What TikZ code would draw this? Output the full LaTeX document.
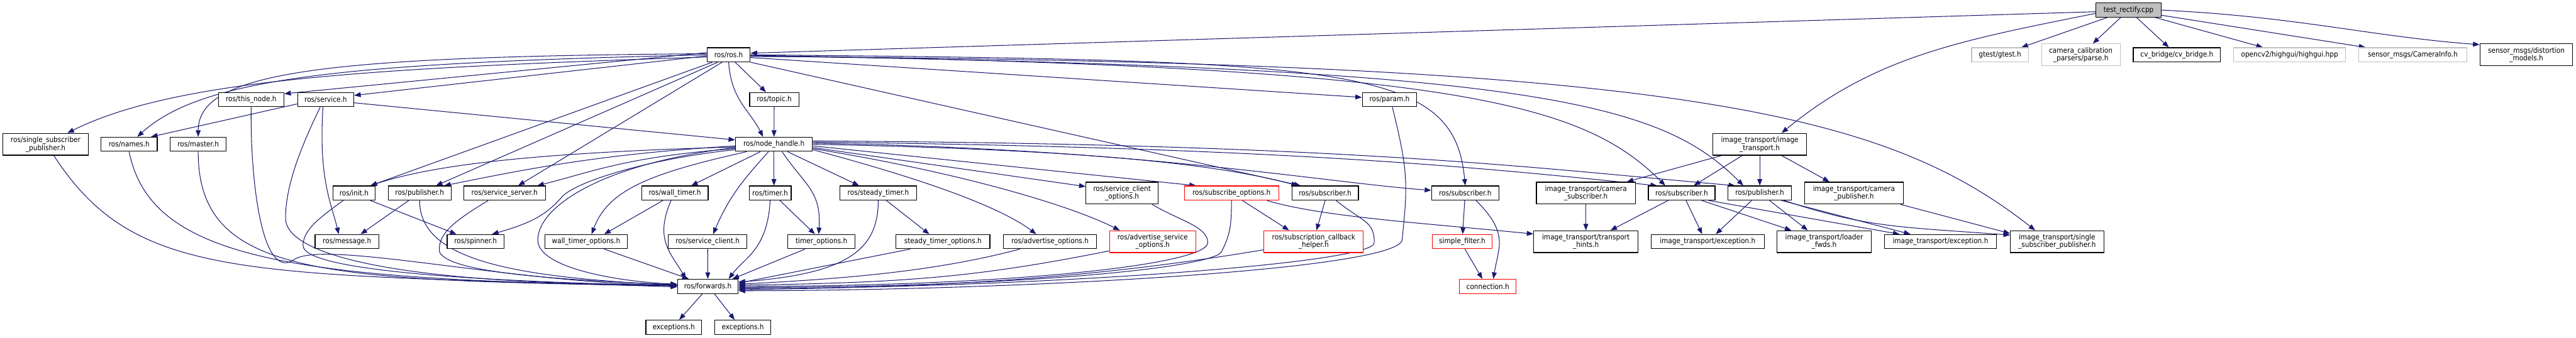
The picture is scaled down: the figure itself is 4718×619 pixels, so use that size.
\documentclass[tikz,border=0pt]{standalone}
\usepackage{fontspec}
\setmainfont{DejaVu Sans Condensed}
\usetikzlibrary{arrows.meta}
\definecolor{edgec}{HTML}{191970}
\definecolor{graybd}{HTML}{BFBFBF}
\definecolor{redbd}{HTML}{FF0000}
\pgfdeclarelayer{edgelayer}
\pgfsetlayers{edgelayer,main}
\begin{document}
\begin{tikzpicture}[x=1pt,y=1pt,
  box/.style={draw=black, fill=white, line width=1.3pt, inner sep=0pt, align=center,
    font=\fontsize{13.5}{14.5}\selectfont},
  one/.style={minimum height=26pt},
  two/.style={minimum height=40pt},
  gb/.style={draw=graybd},
  rb/.style={draw=redbd},
  dep/.style={draw=edgec, line width=1.2pt, -{Triangle[length=12pt,width=9pt]}}]
\useasboundingbox (0,0) rectangle (4718,-619);
% row 0-1
\node[box,one,minimum width=119pt,fill=graybd] (TR) at (3898.5,-18.5) {test\_rectify.cpp};
\node[box,one,minimum width=79pt] (R) at (1334.5,-100.5) {ros/ros.h};
\node[box,one,gb,minimum width=104pt] (gtest) at (3663,-100.5) {gtest/gtest.h};
\node[box,two,gb,minimum width=144pt] (ccp) at (3811,-100.5) {camera\_calibration\\\_parsers/parse.h};
\node[box,one,minimum width=160pt] (cvb) at (3987,-100.5) {cv\_bridge/cv\_bridge.h};
\node[box,one,gb,minimum width=205pt] (hg) at (4193.5,-100.5) {opencv2/highgui/highgui.hpp};
\node[box,one,gb,minimum width=198pt] (ci) at (4419,-100.5) {sensor\_msgs/CameraInfo.h};
\node[box,two,minimum width=170pt] (dm) at (4627,-100.5) {sensor\_msgs/distortion\\\_models.h};
% row 2
\node[box,one,minimum width=120pt] (thisnode) at (460,-182.5) {ros/this\_node.h};
\node[box,one,minimum width=103pt] (service) at (596.5,-182.5) {ros/service.h};
\node[box,one,minimum width=90pt] (topic) at (1418,-182.5) {ros/topic.h};
\node[box,one,minimum width=100pt] (param) at (2545,-182.5) {ros/param.h};
% row 3
\node[box,two,minimum width=157pt] (ssp) at (83.5,-264.5) {ros/single\_subscriber\\\_publisher.h};
\node[box,one,minimum width=103pt] (names) at (236.5,-264.5) {ros/names.h};
\node[box,one,minimum width=102pt] (master) at (363,-264.5) {ros/master.h};
\node[box,one,minimum width=141pt] (nh) at (1417.5,-264.5) {ros/node\_handle.h};
\node[box,two,minimum width=172pt] (IT) at (3223,-264.5) {image\_transport/image\\\_transport.h};
% row 4
\node[box,one,minimum width=77pt] (init) at (648.5,-354) {ros/init.h};
\node[box,one,minimum width=115pt] (pub1) at (768.5,-354) {ros/publisher.h};
\node[box,one,minimum width=150pt] (srvserver) at (924,-354) {ros/service\_server.h};
\node[box,one,minimum width=122pt] (walltimer) at (1236,-354) {ros/wall\_timer.h};
\node[box,one,minimum width=77pt] (timer) at (1410.5,-354) {ros/timer.h};
\node[box,one,minimum width=141pt] (steadytimer) at (1608.5,-354) {ros/steady\_timer.h};
\node[box,two,minimum width=132pt] (sco) at (2055,-354) {ros/service\_client\\\_options.h};
\node[box,one,rb,minimum width=173pt] (subopts) at (2255.5,-354) {ros/subscribe\_options.h};
\node[box,one,minimum width=122pt] (sub1) at (2427,-354) {ros/subscriber.h};
\node[box,one,minimum width=123pt] (sub2) at (2683.5,-354) {ros/subscriber.h};
\node[box,two,minimum width=181pt] (camsub) at (2904.5,-354) {image\_transport/camera\\\_subscriber.h};
\node[box,one,minimum width=122pt] (sub3) at (3080,-354) {ros/subscriber.h};
\node[box,one,minimum width=116pt] (pub2) at (3223,-354) {ros/publisher.h};
\node[box,two,minimum width=181pt] (campub) at (3395.5,-354) {image\_transport/camera\\\_publisher.h};
% row 5
\node[box,one,minimum width=117pt] (message) at (635.5,-443) {ros/message.h};
\node[box,one,minimum width=104pt] (spinner) at (871,-443) {ros/spinner.h};
\node[box,one,minimum width=151pt] (wto) at (1073.5,-443) {wall\_timer\_options.h};
\node[box,one,minimum width=144pt] (svcclient) at (1296,-443) {ros/service\_client.h};
\node[box,one,minimum width=123pt] (timeropts) at (1504.5,-443) {timer\_options.h};
\node[box,one,minimum width=172pt] (sto) at (1727,-443) {steady\_timer\_options.h};
\node[box,one,minimum width=170pt] (advopts) at (1923,-443) {ros/advertise\_options.h};
\node[box,two,rb,minimum width=158pt] (aso) at (2111,-443) {ros/advertise\_service\\\_options.h};
\node[box,two,rb,minimum width=182pt] (sch) at (2406,-443) {ros/subscription\_callback\\\_helper.h};
\node[box,one,rb,minimum width=110pt] (sf) at (2678,-443) {simple\_filter.h};
\node[box,two,minimum width=191pt] (th) at (2904.5,-443) {image\_transport/transport\\\_hints.h};
\node[box,one,minimum width=207pt] (exc1) at (3127.5,-443) {image\_transport/exception.h};
\node[box,two,minimum width=172pt] (loader) at (3341,-443) {image\_transport/loader\\\_fwds.h};
\node[box,one,minimum width=206pt] (exc2) at (3554,-443) {image\_transport/exception.h};
\node[box,two,minimum width=171pt] (itssp) at (3767.5,-443) {image\_transport/single\\\_subscriber\_publisher.h};
% row 6-7
\node[box,one,minimum width=111pt] (fwd) at (1296.5,-525) {ros/forwards.h};
\node[box,one,rb,minimum width=104pt] (conn) at (2725,-525) {connection.h};
\node[box,one,minimum width=102pt] (exa) at (1234,-600) {exceptions.h};
\node[box,one,minimum width=103pt] (exb) at (1360.5,-600) {exceptions.h};
\begin{pgfonlayer}{edgelayer}
% edges from test_rectify
\draw[dep] ([yshift=-3pt]TR.west) -- ([yshift=3pt]R.east);
\draw[dep] ([yshift=-6pt]TR.west) .. controls +(-250,-50) and +(170,140) .. ([xshift=40pt]IT.north);
\draw[dep] (TR) -- (gtest);
\draw[dep] (TR) -- (ccp);
\draw[dep] (TR) -- (cvb);
\draw[dep] (TR) -- (hg);
\draw[dep] (TR) -- (ci);
\draw[dep] (TR.east) .. controls +(250,-12) and +(-200,15) .. ([yshift=-2pt]dm.north west);
% edges from ros.h
\draw[dep] ([yshift=-4pt]R.west) .. controls +(-600,-20) and +(200,100) .. ([xshift=40pt]ssp.north);
\draw[dep] (R.west) .. controls +(-650,-15) and +(120,110) .. ([xshift=15pt]names.north);
\draw[dep] ([yshift=2pt]R.west) .. controls +(-700,-5) and +(0,120) .. (master.north);
\draw[dep] ([yshift=4pt]R.west) -- ([yshift=-3pt]thisnode.north east);
\draw[dep] ([yshift=-2pt]R.west) -- ([yshift=-6pt]service.north east);
\draw[dep] ([xshift=-30pt]R.south) -- ([xshift=30pt]init.north);
\draw[dep] ([xshift=-20pt]R.south) -- ([xshift=30pt]pub1.north);
\draw[dep] ([xshift=-12pt]R.south) -- ([xshift=25pt]srvserver.north);
\draw[dep] ([xshift=12pt]R.south) -- ([xshift=-15pt]topic.north);
\draw[dep] (R.south) .. controls +(5,-70) and +(-25,50) .. ([xshift=-20pt]nh.north);
\draw[dep] (topic) -- (nh);
\draw[dep] ([yshift=-5pt]R.east) -- ([yshift=4pt]param.west);
\draw[dep] (R.south east) -- ([xshift=-45pt]sub1.north);
\draw[dep] (R.east) .. controls +(1100,-10) and +(-20,220) .. (sub2.north);
\draw[dep] ([yshift=-1pt]R.east) .. controls +(1300,-20) and +(-150,150) .. ([xshift=-30pt]sub3.north);
\draw[dep] ([yshift=-2pt]R.east) .. controls +(1450,-20) and +(-150,150) .. ([xshift=-30pt]pub2.north);
\draw[dep] ([yshift=-3pt]R.east) .. controls +(1700,-10) and +(-280,220) .. ([xshift=-40pt]itssp.north);
% service, this_node, names, master, ssp
\draw[dep] ([yshift=-8pt]service.west) -- ([xshift=40pt]names.north);
\draw[dep] ([yshift=-6pt]service.east) -- ([yshift=8pt]nh.west);
\draw[dep] ([xshift=-5pt]service.south) .. controls +(-8,-130) and +(-15,60) .. ([xshift=-15pt]message.north);
\draw[dep] ([xshift=-10pt]service.south) .. controls +(-36,-75) and +(0,60) .. (523,-400)
   .. controls +(0,-70) and +(-500,0) .. ([yshift=3pt]fwd.west);
\draw[dep] (thisnode.south) .. controls +(-2,-135) and +(-60,-45) .. (540,-475)
   .. controls +(60,35) and +(-300,3) .. ([yshift=2pt]fwd.west);
\draw[dep] (names.south) .. controls +(40,-200) and +(-700,10) .. ([yshift=1pt]fwd.west);
\draw[dep] (master.south) .. controls +(0,-230) and +(-650,10) .. ([yshift=1pt]fwd.west);
\draw[dep] ([xshift=15pt]ssp.south) .. controls +(150,-230) and +(-800,25) .. ([yshift=-1pt]fwd.west);
% init, publisher, service_server
\draw[dep] ([xshift=-20pt]init.south) .. controls +(-38,-28) and +(0,30) .. (555,-450)
   .. controls +(0,-40) and +(-450,10) .. ([yshift=1pt]fwd.west);
\draw[dep] ([xshift=30pt]init.south) -- ([xshift=-35pt]spinner.north);
\draw[dep] ([xshift=-20pt]pub1.south) -- ([xshift=25pt]message.north);
\draw[dep] (pub1.south) .. controls +(0,-110) and +(-300,15) .. ([yshift=2pt]fwd.west);
\draw[dep] ([xshift=-30pt]srvserver.south) .. controls +(-54,-33) and +(-5,35) .. (805,-462)
   .. controls +(15,-35) and +(-250,10) .. ([yshift=3pt]fwd.west);
% node_handle
\draw[dep] ([yshift=-5pt]nh.west) .. controls +(-350,-10) and +(120,40) .. ([xshift=30pt]init.north);
\draw[dep] ([yshift=-3pt]nh.west) .. controls +(-250,-15) and +(150,30) .. ([xshift=45pt]pub1.north);
\draw[dep] ([yshift=-8pt]nh.west) .. controls +(-200,-15) and +(100,25) .. ([xshift=60pt]srvserver.north);
\draw[dep] ([yshift=-10pt]nh.west) .. controls +(-147,-15) and +(30,30) .. (1030,-360)
   .. controls +(-30,-35) and +(70,20) .. ([xshift=30pt]spinner.north);
\draw[dep] ([xshift=-50pt]nh.south) .. controls +(-180,-40) and +(30,80) .. ([xshift=10pt]wto.north);
\draw[dep] ([yshift=-6pt]nh.west) .. controls +(-247,-30) and +(0,60) .. (985,-440)
   .. controls +(0,-50) and +(-115,5) .. ([yshift=4pt]fwd.west);
\draw[dep] ([xshift=-25pt]nh.south) -- ([xshift=30pt]walltimer.north);
\draw[dep] ([xshift=-10pt]nh.south) .. controls +(-45,-50) and +(30,70) .. ([xshift=10pt]svcclient.north);
\draw[dep] (nh.south) -- ([xshift=7pt]timer.north);
\draw[dep] ([xshift=15pt]nh.south) .. controls +(40,-60) and +(5,80) .. ([xshift=-5pt]timeropts.north);
\draw[dep] ([xshift=25pt]nh.south) -- ([xshift=-35pt]steadytimer.north);
\draw[dep] ([yshift=-10pt]nh.east) .. controls +(150,-40) and +(-80,60) .. ([xshift=-25pt]advopts.north);
\draw[dep] ([yshift=-8pt]nh.east) .. controls +(250,-40) and +(-100,50) .. ([xshift=-60pt]aso.north);
\draw[dep] ([yshift=-6pt]nh.east) -- ([yshift=12pt]sco.west);
\draw[dep] ([yshift=-3pt]nh.east) -- ([xshift=-65pt]subopts.north);
\draw[dep] (nh.east) .. controls +(500,-10) and +(-150,40) .. ([xshift=-50pt]sub1.north);
\draw[dep] ([yshift=2pt]nh.east) .. controls +(600,-10) and +(-200,15) .. ([yshift=5pt]sub2.west);
\draw[dep] ([yshift=4pt]nh.east) .. controls +(900,-10) and +(-300,30) .. ([xshift=-45pt]sub3.north);
\draw[dep] ([yshift=6pt]nh.east) .. controls +(1000,-5) and +(-350,30) .. ([xshift=-45pt]pub2.north);
% timers
\draw[dep] ([xshift=18pt]timer.south) -- ([xshift=-12pt]timeropts.north);
\draw[dep] (timer.south) .. controls +(-5,-90) and +(30,40) .. ([xshift=38pt]fwd.north);
\draw[dep] ([xshift=-22pt]walltimer.south) -- ([xshift=33pt]wto.north);
\draw[dep] ([xshift=-7pt]walltimer.south) .. controls +(-30,-70) and +(-30,50) .. ([xshift=-40pt]fwd.north);
\draw[dep] ([xshift=33pt]wto.south) -- ([xshift=-35pt]fwd.north);
\draw[dep] (svcclient) -- (fwd);
\draw[dep] ([xshift=-30pt]timeropts.south) -- ([xshift=45pt]fwd.north);
\draw[dep] ([xshift=15pt]steadytimer.south) -- ([xshift=-25pt]sto.north);
\draw[dep] (steadytimer.south) .. controls +(0,-90) and +(200,15) .. ([yshift=8pt]fwd.east);
\draw[dep] ([xshift=-60pt]sto.south) -- ([yshift=6pt]fwd.east);
\draw[dep] ([xshift=-55pt]advopts.south) .. controls +(-150,-40) and +(200,10) .. ([yshift=4pt]fwd.east);
\draw[dep] ([yshift=-17pt]aso.west) .. controls +(-250,-50) and +(300,5) .. ([yshift=2pt]fwd.east);
\draw[dep] ([xshift=55pt]sco.south) .. controls +(50,-30) and +(0,30) .. (2212,-445)
   .. controls +(0,-40) and +(500,0) .. (fwd.east);
\draw[dep] (subopts.south) .. controls +(0,-50) and +(15,30) .. (2237,-462)
   .. controls +(-20,-30) and +(500,0) .. ([yshift=-2pt]fwd.east);
\draw[dep] ([xshift=20pt]subopts.south) -- ([xshift=-45pt]sch.north);
\draw[dep] ([xshift=65pt]subopts.south) .. controls +(100,-30) and +(-200,20) .. ([yshift=14pt]th.west);
\draw[dep] (sub1.south) -- ([xshift=5pt]sch.north);
\draw[dep] ([xshift=20pt]sub1.south) .. controls +(50,-40) and +(0,40) .. (2517,-445)
   .. controls +(0,-40) and +(500,0) .. ([yshift=-4pt]fwd.east);
\draw[dep] ([yshift=-15pt]sch.west) .. controls +(-300,-50) and +(400,5) .. ([yshift=-6pt]fwd.east);
\draw[dep] ([xshift=5pt]param.south) .. controls +(30,-120) and +(10,100) .. (2568,-440)
   .. controls +(-10,-55) and +(500,0) .. ([yshift=-8pt]fwd.east);
% subscriber(2)
\draw[dep] (sub2) -- (sf);
\draw[dep] ([xshift=20pt]sub2.south) .. controls +(60,-60) and +(10,60) .. ([xshift=10pt]conn.north);
\draw[dep] ([xshift=5pt]sf.south) -- ([xshift=-10pt]conn.north);
% image_transport
\draw[dep] (camsub) -- (th);
\draw[dep] ([xshift=-70pt]IT.south) -- ([xshift=75pt]camsub.north);
\draw[dep] ([xshift=-32pt]IT.south) -- ([xshift=22pt]sub3.north);
\draw[dep] (IT) -- (pub2);
\draw[dep] ([xshift=40pt]IT.south) -- ([xshift=-45pt]campub.north);
\draw[dep] ([xshift=-25pt]sub3.south) -- ([xshift=45pt]th.north);
\draw[dep] ([xshift=8pt]sub3.south) -- ([xshift=-10pt]exc1.north);
\draw[dep] ([xshift=37pt]sub3.south) -- ([xshift=-60pt]loader.north);
\draw[dep] ([xshift=50pt]sub3.south) -- ([xshift=-75pt]exc2.north);
\draw[dep] ([xshift=-15pt]pub2.south) -- ([xshift=15pt]exc1.north);
\draw[dep] ([xshift=18pt]pub2.south) -- ([xshift=-30pt]loader.north);
\draw[dep] ([xshift=40pt]pub2.south) -- ([xshift=-55pt]exc2.north);
\draw[dep] ([xshift=45pt]pub2.south) .. controls +(150,-50) and +(-200,15) .. ([yshift=12pt]itssp.west);
\draw[dep] ([xshift=85pt]campub.south) -- ([yshift=15pt]itssp.west);
% forwards
\draw[dep] ([xshift=-10pt]fwd.south) -- ([xshift=10pt]exa.north);
\draw[dep] ([xshift=12pt]fwd.south) -- ([xshift=-15pt]exb.north);
\end{pgfonlayer}
\end{tikzpicture}
\end{document}
